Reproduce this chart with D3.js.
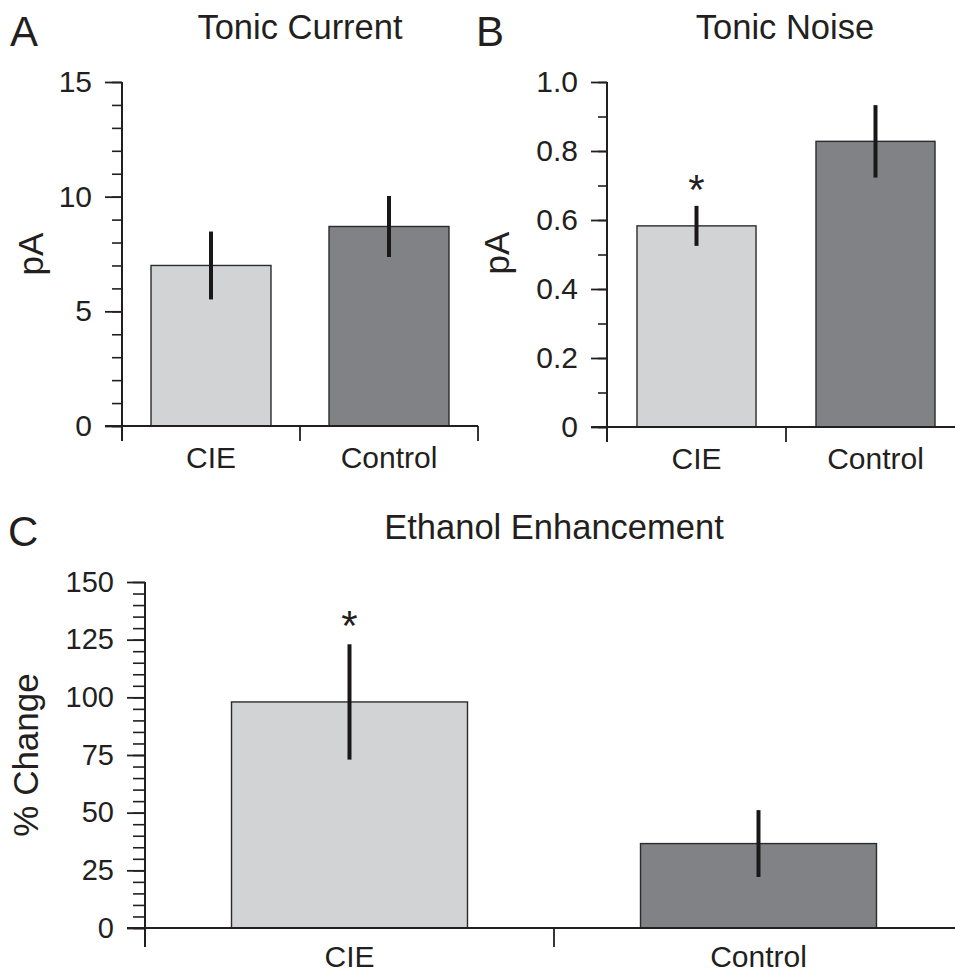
<!DOCTYPE html>
<html><head><meta charset="utf-8">
<script src="https://cdn.jsdelivr.net/npm/d3@7"></script>
<style>
body{margin:0;background:#fff;}
text{font-family:"Liberation Sans",Arial,Helvetica,sans-serif;fill:#231f20;}
</style></head>
<body>
<svg id="chart" width="955" height="973"></svg>
<script>
// ---- data ----
const categories = ["CIE", "Control"];
const currentMean = [7.0, 8.7];
const currentErr = [1.48, 1.33];
const noiseMean = [0.583, 0.828];
const noiseErr = [0.058, 0.105];
const ethanolMean = [98, 36.6];
const ethanolErr = [25, 14.5];
const currentTicks = [0, 5, 10, 15];
const noiseTicks = [0, 0.2, 0.4, 0.6, 0.8, 1.0];
const noiseTickLabels = ["0", "0.2", "0.4", "0.6", "0.8", "1.0"];
const ethanolTicks = [0, 25, 50, 75, 100, 125, 150];
const noiseSig = ["*", ""];
const ethanolSig = ["*", ""];
const currentSig = ["", ""];
const barColors = ["#d1d3d4", "#808285"];

const svg = d3.select("#chart");
const ink = "#231f20";

function panel(o) {
  const g = svg.append("g");
  const y = d3.scaleLinear().domain([0, o.max]).range([o.y0, o.y1]);
  const x = d3.scaleBand().domain(categories).range([o.x0, o.x1]).padding(0);
  const bw = x.bandwidth();
  const barW = bw * o.barFrac;

  // minor ticks
  const minor = d3.range(0, o.max + o.minorStep / 2, o.minorStep);
  g.append("g").attr("transform", `translate(${o.x0},0)`)
    .call(d3.axisLeft(y).tickValues(minor).tickSize(o.minorLen).tickFormat(""))
    .call(s => { s.select(".domain").remove(); s.selectAll("line").attr("stroke", ink).attr("stroke-width", 1.6); });

  // major ticks + labels
  const ya = g.append("g").attr("transform", `translate(${o.x0},0)`)
    .call(d3.axisLeft(y).tickValues(o.ticks).tickSize(o.majorLen).tickPadding(13)
      .tickFormat((d, i) => o.labels ? o.labels[i] : d));
  ya.select(".domain").remove();
  ya.selectAll("line").attr("stroke", ink).attr("stroke-width", 1.8);
  ya.selectAll("text").attr("font-size", o.tickFont).attr("fill", ink)
    .attr("font-family", "'Liberation Sans',Arial,sans-serif");

  // bars
  g.selectAll("rect.bar").data(categories).enter().append("rect")
    .attr("x", c => x(c) + (bw - barW) / 2)
    .attr("width", barW)
    .attr("y", (c, i) => y(o.mean[i]))
    .attr("height", (c, i) => y(0) - y(o.mean[i]))
    .attr("fill", (c, i) => barColors[i])
    .attr("stroke", "#2b2b2b").attr("stroke-width", 1.4);

  // error bars
  g.selectAll("line.err").data(categories).enter().append("line")
    .attr("x1", c => x(c) + bw / 2).attr("x2", c => x(c) + bw / 2)
    .attr("y1", (c, i) => y(o.mean[i] + o.err[i]))
    .attr("y2", (c, i) => y(o.mean[i] - o.err[i]))
    .attr("stroke", "#1a1718").attr("stroke-width", 4);

  // significance markers
  g.selectAll("text.sig").data(categories).enter().append("text")
    .attr("x", c => x(c) + bw / 2)
    .attr("y", (c, i) => y(o.mean[i] + o.err[i]) - o.sigGap)
    .attr("text-anchor", "middle").attr("font-size", 42)
    .text((c, i) => o.sig[i]);

  // y axis line
  g.append("line").attr("x1", o.x0).attr("x2", o.x0)
    .attr("y1", y(o.max)).attr("y2", y(0) + o.xTickLen)
    .attr("stroke", ink).attr("stroke-width", 2);
  // x axis line
  g.append("line").attr("x1", o.x0 - o.majorLen).attr("x2", Math.min(o.x1, 955))
    .attr("y1", y(0)).attr("y2", y(0))
    .attr("stroke", ink).attr("stroke-width", 2);
  // x ticks at band boundaries
  const bounds = categories.map(c => x(c)).concat([o.x1]);
  g.selectAll("line.xt").data(bounds).enter().append("line")
    .attr("x1", d => d).attr("x2", d => d)
    .attr("y1", y(0)).attr("y2", y(0) + o.xTickLen)
    .attr("stroke", ink).attr("stroke-width", 1.8);
  // category labels
  g.selectAll("text.cat").data(categories).enter().append("text")
    .attr("x", c => x(c) + bw / 2).attr("y", y(0) + o.catDy)
    .attr("text-anchor", "middle").attr("font-size", o.catFont)
    .text(c => c);

  // y label
  g.append("text")
    .attr("transform", `translate(${o.ylabX},${o.ylabY}) rotate(-90)`)
    .attr("text-anchor", "middle").attr("font-size", o.ylabFont)
    .text(o.ylab);
  // title
  g.append("text").attr("x", o.titleX).attr("y", o.titleY)
    .attr("text-anchor", "middle").attr("font-size", 34.5).text(o.title);
  // panel letter
  g.append("text").attr("x", o.letterX).attr("y", o.letterY)
    .attr("font-size", 42).text(o.letter);
}

panel({
  x0: 122, x1: 478, y0: 426, y1: 82, max: 15, ticks: currentTicks, minorStep: 1,
  majorLen: 17, minorLen: 10, xTickLen: 15, barFrac: 0.674, tickFont: 30,
  mean: currentMean, err: currentErr, sig: currentSig, sigGap: 3,
  catDy: 42, catFont: 30, ylab: "pA", ylabX: 43, ylabY: 254, ylabFont: 35,
  title: "Tonic Current", titleX: 300, titleY: 39, letter: "A", letterX: 10, letterY: 46
});
panel({
  x0: 607, x1: 965, y0: 427, y1: 82, max: 1.0, ticks: noiseTicks, labels: noiseTickLabels,
  minorStep: 0.1, majorLen: 16, minorLen: 9, xTickLen: 15, barFrac: 0.665, tickFont: 30,
  mean: noiseMean, err: noiseErr, sig: noiseSig, sigGap: 2,
  catDy: 42, catFont: 30, ylab: "pA", ylabX: 509, ylabY: 253, ylabFont: 35,
  title: "Tonic Noise", titleX: 785, titleY: 39, letter: "B", letterX: 476, letterY: 46
});
panel({
  x0: 145, x1: 963, y0: 928, y1: 582, max: 150, ticks: ethanolTicks, minorStep: 5,
  majorLen: 18, minorLen: 12, xTickLen: 19, barFrac: 0.577, tickFont: 29,
  mean: ethanolMean, err: ethanolErr, sig: ethanolSig, sigGap: 4,
  catDy: 39, catFont: 30, ylab: "% Change", ylabX: 38, ylabY: 755, ylabFont: 35,
  title: "Ethanol Enhancement", titleX: 554, titleY: 539, letter: "C", letterX: 8, letterY: 546
});
</script>
</body></html>
